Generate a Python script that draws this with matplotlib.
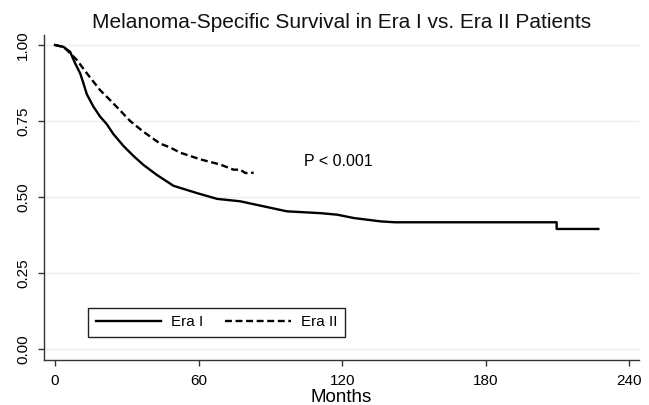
import matplotlib
matplotlib.use("Agg")
import matplotlib.pyplot as plt

plt.rcParams['font.family'] = ['Liberation Sans', 'DejaVu Sans']
plt.rcParams['lines.scale_dashes'] = False

# Era I (solid) Kaplan-Meier estimate
era1_months = [0, 3.5, 6.3, 8.4, 10.5, 11.8, 13.3, 16.0, 18.8, 21.6, 24.4,
               28.6, 32.8, 36.9, 42.5, 49.5, 59.3, 67.7, 77.4, 88.6, 96.9,
               110.9, 117.9, 124.8, 136.0, 142.0, 209.6, 209.6, 227.0]
era1_surv = [1.0, 0.994, 0.978, 0.94, 0.907, 0.876, 0.838, 0.798, 0.765, 0.740,
             0.707, 0.668, 0.635, 0.606, 0.573, 0.537, 0.513, 0.494, 0.486,
             0.467, 0.453, 0.447, 0.442, 0.431, 0.420, 0.417, 0.417, 0.395,
             0.395]

# Era II (dashed)
era2_months = [0, 3.5, 4.9, 9.1, 13.3, 18.8, 23.0, 27.2, 31.4, 36.9, 43.9,
               48.1, 52.3, 60.7, 69.0, 74.6, 77.4, 79.5, 83.0]
era2_surv = [1.0, 0.994, 0.984, 0.951, 0.907, 0.852, 0.819, 0.785, 0.750,
             0.715, 0.676, 0.663, 0.646, 0.624, 0.607, 0.590, 0.590, 0.579,
             0.580]

x_ticks = [0, 60, 120, 180, 240]
y_ticks = [0.0, 0.25, 0.5, 0.75, 1.0]
y_tick_labels = ["0.00", "0.25", "0.50", "0.75", "1.00"]

fig = plt.figure(figsize=(6.49, 4.05), dpi=100)
ax = fig.add_axes([44/649, 1-360/405, 595/649, 325/405])

ax.plot(era1_months, era1_surv, color='black', lw=1.7, label='Era I')
ax.plot(era2_months, era2_surv, color='black', lw=1.7, dashes=(5, 2.6),
        label='Era II')

ax.set_xlim(-4.6, 244)
ax.set_ylim(-0.036, 1.033)
ax.set_xticks(x_ticks)
ax.set_xticklabels([str(t) for t in x_ticks])
ax.set_yticks(y_ticks)
ax.set_yticklabels(y_tick_labels, rotation=90, va='center')
ax.tick_params(axis='both', labelsize=11, length=4, width=1, color='#333333',
               labelcolor='black')
ax.tick_params(axis='y', pad=6)
ax.tick_params(axis='x', pad=6)

ax.grid(axis='y', color='#eeeeee', lw=1)
ax.set_axisbelow(True)
for s in ['top', 'right']:
    ax.spines[s].set_visible(False)
for s in ['left', 'bottom']:
    ax.spines[s].set_color('#333333')
    ax.spines[s].set_linewidth(1)

ax.set_title("Melanoma-Specific Survival in Era I vs. Era II Patients",
             fontsize=15, pad=5, color='#111111')
ax.set_xlabel("Months", fontsize=13.5, labelpad=1)

ax.text(104, 0.616, "P < 0.001", fontsize=11.5, va='center', ha='left')

leg = ax.legend(loc='lower left', bbox_to_anchor=(0.074, 0.0708), ncol=2,
                fancybox=False, edgecolor='#222222', framealpha=1,
                fontsize=11, handlelength=4.3, handletextpad=0.65,
                columnspacing=1.4, borderpad=0.5, borderaxespad=0)
leg.get_frame().set_linewidth(1)

fig.savefig("out.png", dpi=100)
